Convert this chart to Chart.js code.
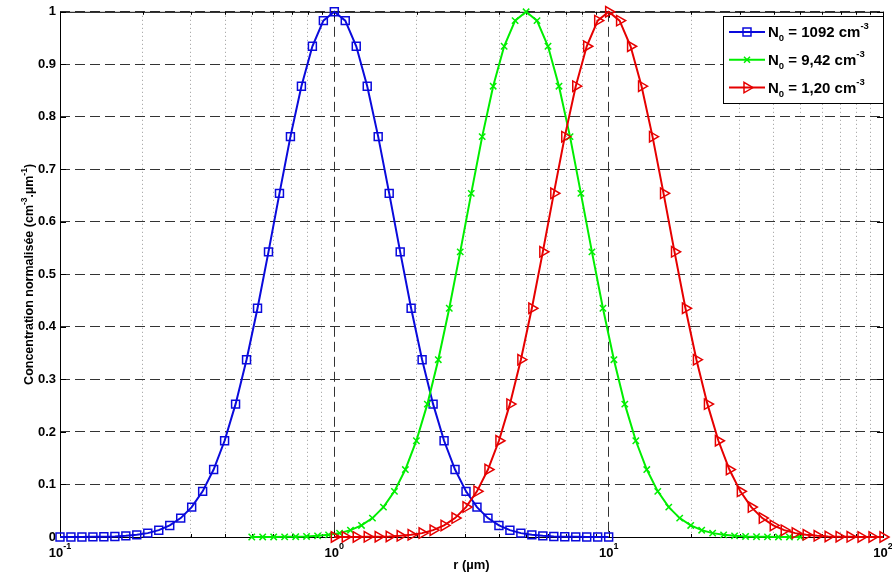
<!DOCTYPE html>
<html>
<head>
<meta charset="utf-8">
<script src="https://cdn.jsdelivr.net/npm/chart.js@4/dist/chart.umd.min.js"></script>
<style>
  body { margin: 0; background: #fff; }
</style>
</head>
<body>
<canvas id="myChart" width="892" height="580"></canvas>
<script>
// rayons (µm) - blue, green, red
const rBlue = [0.1, 0.1096, 0.1202, 0.1318, 0.1445, 0.1585, 0.1738, 0.1905, 0.2089, 0.2291, 0.2512, 0.2754, 0.302, 0.3311, 0.3631, 0.3981, 0.4365, 0.4786, 0.5248, 0.5754, 0.631, 0.6918, 0.7586, 0.8318, 0.912,
  1, 1.096, 1.202, 1.318, 1.445, 1.585, 1.738, 1.905, 2.089, 2.291, 2.512, 2.754, 3.02, 3.311, 3.631, 3.981, 4.365, 4.786, 5.248, 5.754, 6.31, 6.918, 7.586, 8.318, 9.12, 10];
const rGreen = [0.5, 0.548, 0.601, 0.659, 0.723, 0.792, 0.869, 0.953, 1.045, 1.145, 1.256, 1.377, 1.51, 1.656, 1.815, 1.991, 2.183, 2.393, 2.624, 2.877, 3.155, 3.459, 3.793, 4.159, 4.56,
  5, 5.48, 6.01, 6.59, 7.23, 7.92, 8.69, 9.53, 10.45, 11.45, 12.56, 13.77, 15.1, 16.56, 18.15, 19.91, 21.83, 23.93, 26.24, 28.77, 31.55, 34.59, 37.93, 41.59, 45.6, 50];
const rRed = [1, 1.096, 1.202, 1.318, 1.445, 1.585, 1.738, 1.905, 2.089, 2.291, 2.512, 2.754, 3.02, 3.311, 3.631, 3.981, 4.365, 4.786, 5.248, 5.754, 6.31, 6.918, 7.586, 8.318, 9.12,
  10, 10.96, 12.02, 13.18, 14.45, 15.85, 17.38, 19.05, 20.89, 22.91, 25.12, 27.54, 30.2, 33.11, 36.31, 39.81, 43.65, 47.86, 52.48, 57.54, 63.1, 69.18, 75.86, 83.18, 91.2, 100];

// concentrations normalisees
const cBlue = [0, 0.0001, 0.0001, 0.0003, 0.0006, 0.0011, 0.0022, 0.0041, 0.0074, 0.013, 0.022, 0.036, 0.0569, 0.0869, 0.1284, 0.1833, 0.253, 0.3376, 0.4355, 0.5429, 0.6543, 0.7623, 0.8584, 0.9344, 0.9832,
  1, 0.9832, 0.9344, 0.8584, 0.7623, 0.6543, 0.5429, 0.4355, 0.3376, 0.253, 0.1833, 0.1284, 0.0869, 0.0569, 0.036, 0.022, 0.013, 0.0074, 0.0041, 0.0022, 0.0011, 0.0006, 0.0003, 0.0001, 0.0001, 0];
const cGreen = [0, 0.0001, 0.0001, 0.0003, 0.0006, 0.0011, 0.0022, 0.0041, 0.0074, 0.013, 0.022, 0.036, 0.0569, 0.0869, 0.1284, 0.1833, 0.253, 0.3376, 0.4355, 0.5429, 0.6543, 0.7623, 0.8584, 0.9344, 0.9832,
  1, 0.9832, 0.9344, 0.8584, 0.7623, 0.6543, 0.5429, 0.4355, 0.3376, 0.253, 0.1833, 0.1284, 0.0869, 0.0569, 0.036, 0.022, 0.013, 0.0074, 0.0041, 0.0022, 0.0011, 0.0006, 0.0003, 0.0001, 0.0001, 0];
const cRed = [0, 0.0001, 0.0001, 0.0003, 0.0006, 0.0011, 0.0022, 0.0041, 0.0074, 0.013, 0.022, 0.036, 0.0569, 0.0869, 0.1284, 0.1833, 0.253, 0.3376, 0.4355, 0.5429, 0.6543, 0.7623, 0.8584, 0.9344, 0.9832,
  1, 0.9832, 0.9344, 0.8584, 0.7623, 0.6543, 0.5429, 0.4355, 0.3376, 0.253, 0.1833, 0.1284, 0.0869, 0.0569, 0.036, 0.022, 0.013, 0.0074, 0.0041, 0.0022, 0.0011, 0.0006, 0.0003, 0.0001, 0.0001, 0];

const legendN0 = ['1092', '9,42', '1,20'];
const yLabels = ['0', '0.1', '0.2', '0.3', '0.4', '0.5', '0.6', '0.7', '0.8', '0.9', '1'];
const xDecades = [0.1, 1, 10, 100];
const xExponents = ['-1', '0', '1', '2'];
const xGrid = [0.1, 0.2, 0.3, 0.4, 0.5, 0.6, 0.7, 0.8, 0.9, 1, 2, 3, 4, 5, 6, 7, 8, 9,
  10, 20, 30, 40, 50, 60, 70, 80, 90, 100];

const FONT = '"Liberation Sans", Arial, sans-serif';
const BLUE = '#0a0adc', GREEN = '#00ee00', RED = '#e60000';

function isDecade(v) {
  let l = Math.log10(v);
  return Math.abs(l - Math.round(l)) < 1e-6;
}

// draw text with sub / superscripts, parts = [{t, size, dy}]
function drawRich(ctx, parts, x, y, align) {
  let w = 0;
  parts.forEach(p => {
    ctx.font = 'bold ' + p.size + 'px ' + FONT;
    p.w = ctx.measureText(p.t).width;
    w += p.w;
  });
  let cx = align === 'center' ? x - w / 2 : x;
  ctx.textAlign = 'left';
  ctx.textBaseline = 'alphabetic';
  parts.forEach(p => {
    ctx.font = 'bold ' + p.size + 'px ' + FONT;
    ctx.fillText(p.t, cx, y + (p.dy || 0));
    cx += p.w;
  });
}

function drawMarker(ctx, type, x, y, color) {
  ctx.save();
  ctx.strokeStyle = color;
  ctx.lineWidth = 1.5;
  ctx.beginPath();
  if (type === 'rect') {
    ctx.rect(x - 4, y - 4, 8, 8);
  } else if (type === 'cross') {
    ctx.moveTo(x - 3, y - 3); ctx.lineTo(x + 3, y + 3);
    ctx.moveTo(x - 3, y + 3); ctx.lineTo(x + 3, y - 3);
  } else {
    ctx.moveTo(x + 6, y); ctx.lineTo(x - 3, y - 5.2); ctx.lineTo(x - 3, y + 5.2); ctx.closePath();
  }
  ctx.stroke();
  ctx.restore();
}

const framePlugin = {
  id: 'frame',
  beforeDatasetsDraw(chart) {
    const {ctx, chartArea: a, scales} = chart;
    ctx.save();
    ctx.strokeStyle = '#000';
    ctx.lineWidth = 1;
    ctx.strokeRect(a.left + 0.5, a.top + 0.5, a.right - a.left, a.bottom - a.top);
    ctx.beginPath();
    xGrid.forEach(v => {
      let px = Math.round(scales.x.getPixelForValue(v)) + 0.5;
      let len = isDecade(v) ? 6 : 3;
      ctx.moveTo(px, a.bottom); ctx.lineTo(px, a.bottom - len);
      ctx.moveTo(px, a.top); ctx.lineTo(px, a.top + len);
    });
    for (let i = 0; i < yLabels.length; i++) {
      let py = Math.round(scales.y.getPixelForValue(i / 10)) + 0.5;
      ctx.moveTo(a.left, py); ctx.lineTo(a.left + 6, py);
      ctx.moveTo(a.right, py); ctx.lineTo(a.right - 6, py);
    }
    ctx.stroke();
    ctx.restore();
  },
  afterDraw(chart) {
    const {ctx, chartArea: a, scales} = chart;
    ctx.save();
    ctx.fillStyle = '#000';

    // x tick labels 10^n
    xDecades.forEach((v, i) => {
      let px = scales.x.getPixelForValue(v);
      drawRich(ctx, [{t: '10', size: 13}, {t: xExponents[i], size: 9, dy: -8}], px, 557, 'center');
    });

    // x title
    drawRich(ctx, [{t: 'r (µm)', size: 13}], (a.left + a.right) / 2, 569, 'center');

    // y title
    ctx.save();
    ctx.translate(33, (a.top + a.bottom) / 2);
    ctx.rotate(-Math.PI / 2);
    drawRich(ctx, [
      {t: 'Concentration normalisée (cm', size: 12.5},
      {t: '-3', size: 8.5, dy: -6},
      {t: '.µm', size: 12.5},
      {t: '-1', size: 8.5, dy: -6},
      {t: ')', size: 12.5}
    ], 0, 0, 'center');
    ctx.restore();

    // legend
    const lx = 723, ly = 16, lw = 160, lh = 87;
    ctx.fillStyle = '#fff';
    ctx.fillRect(lx, ly, lw, lh);
    ctx.strokeStyle = '#000';
    ctx.lineWidth = 1;
    ctx.strokeRect(lx + 0.5, ly + 0.5, lw, lh);
    const colors = [BLUE, GREEN, RED];
    const marks = ['rect', 'cross', 'tri'];
    legendN0.forEach((n, i) => {
      let cy = 32 + i * 27.8;
      ctx.strokeStyle = colors[i];
      ctx.lineWidth = 2;
      ctx.beginPath();
      ctx.moveTo(729, cy); ctx.lineTo(765, cy);
      ctx.stroke();
      drawMarker(ctx, marks[i], 747, cy, colors[i]);
      ctx.fillStyle = '#000';
      drawRich(ctx, [
        {t: 'N', size: 15},
        {t: '0', size: 9.5, dy: 4},
        {t: ' = ' + n + ' cm', size: 15},
        {t: '-3', size: 9.5, dy: -8}
      ], 768, cy + 5, 'left');
    });
    ctx.restore();
  }
};

const ctx = document.getElementById('myChart').getContext('2d');

function pts(xs, ys) {
  return xs.map((x, i) => ({x: x, y: ys[i]}));
}

const myChart = new Chart(ctx, {
  type: 'line',
  data: {
    datasets: [
      {
        label: 'N0 = ' + legendN0[0] + ' cm-3',
        data: pts(rBlue, cBlue),
        borderColor: BLUE, backgroundColor: 'rgba(0,0,0,0)',
        borderWidth: 2, pointStyle: 'rect', pointRadius: 5.6, pointBorderWidth: 1.5,
        pointBackgroundColor: 'rgba(0,0,0,0)', pointBorderColor: BLUE,
        tension: 0, clip: false, order: 2
      },
      {
        label: 'N0 = ' + legendN0[1] + ' cm-3',
        data: pts(rGreen, cGreen),
        borderColor: GREEN, backgroundColor: 'rgba(0,0,0,0)',
        borderWidth: 2, pointStyle: 'crossRot', pointRadius: 4.5, pointBorderWidth: 1.5,
        pointBorderColor: GREEN,
        tension: 0, clip: false, order: 1
      },
      {
        label: 'N0 = ' + legendN0[2] + ' cm-3',
        data: pts(rRed, cRed),
        borderColor: RED, backgroundColor: 'rgba(0,0,0,0)',
        borderWidth: 2, pointStyle: 'triangle', pointRotation: 90, pointRadius: 6, pointBorderWidth: 1.5,
        pointBackgroundColor: 'rgba(0,0,0,0)', pointBorderColor: RED,
        tension: 0, clip: false, order: 0
      }
    ]
  },
  options: {
    responsive: false,
    animation: false,
    layout: { padding: { left: 0, top: 11, right: 9, bottom: 0 } },
    plugins: {
      legend: { display: false },
      tooltip: { enabled: false }
    },
    scales: {
      x: {
        type: 'logarithmic',
        min: 0.1,
        max: 100,
        afterBuildTicks: s => { s.ticks = xGrid.map(v => ({value: v})); },
        afterFit: s => { s.height = 43; },
        ticks: { display: false },
        grid: {
          drawTicks: false,
          lineWidth: 1,
          color: c => (c.tick && isDecade(c.tick.value)) ? '#333' : '#999'
        },
        border: {
          display: false,
          dash: c => (c.tick && isDecade(c.tick.value)) ? [10, 5] : [1, 3]
        }
      },
      y: {
        min: 0,
        max: 1,
        afterFit: s => { s.width = 60; },
        ticks: {
          stepSize: 0.1,
          autoSkip: false,
          padding: 4,
          color: '#000',
          font: { family: FONT, size: 13, weight: 'bold' },
          callback: v => yLabels[Math.round(v * 10)]
        },
        grid: { drawTicks: false, lineWidth: 1, color: '#333' },
        border: { display: false, dash: [10, 5] }
      }
    }
  },
  plugins: [framePlugin]
});
</script>
</body>
</html>
